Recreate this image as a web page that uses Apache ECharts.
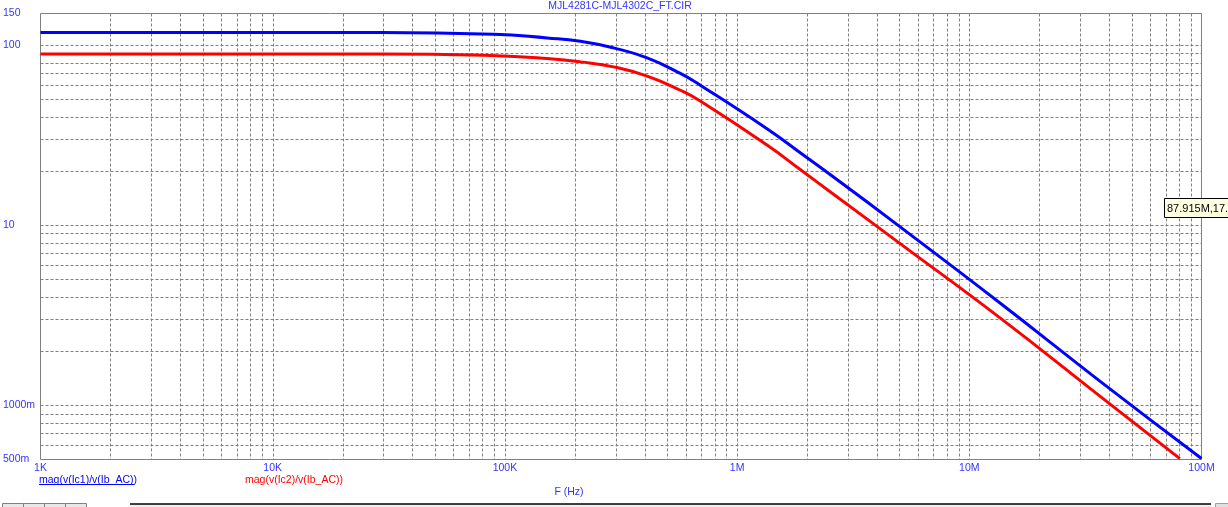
<!DOCTYPE html>
<html>
<head>
<meta charset="utf-8">
<script src="https://cdn.jsdelivr.net/npm/echarts@6/dist/echarts.min.js"></script>
<style>html,body{margin:0;padding:0;background:#fff;}#c{width:1228px;height:507px;}</style>
</head>
<body>
<div id="c"></div>
<script>
// ---- data ----
const chartTitle = 'MJL4281C-MJL4302C_FT.CIR';
const xTickValues = [1e3, 1e4, 1e5, 1e6, 1e7, 1e8];
const xTickLabels = ['1K', '10K', '100K', '1M', '10M', '100M'];
const yTickValues = [0.5, 1, 10, 100, 150];
const yTickLabels = ['500m', '1000m', '10', '100', '150'];
const seriesNames = ['mag(v(Ic1)/v(Ib_AC))', 'mag(v(Ic2)/v(Ib_AC))'];
const xAxisTitle = 'F (Hz)';
const cursorText = '87.915M,17.';

const blueFreq = [1e3, 2.92e4, 8.93e4, 1.52e5, 2.115e5, 2.94e5, 4.097e5, 5.696e5, 6.94e5, 1.345e6, 1.87e6, 2.601e6, 5.036e6, 1.356e7, 3.65e7, 1e8];
const blueMag  = [117.6, 117.6, 115.1, 109.8, 105.2, 96.6, 85.0, 69.7, 60.0, 34.4, 25.3, 18.55, 9.79, 3.70, 1.363, 0.506];

const redFreq = [1e3, 2.92e4, 8.67e4, 1.52e5, 2.115e5, 2.94e5, 4.097e5, 5.696e5, 6.94e5, 1.345e6, 1.87e6, 2.601e6, 5.036e6, 1.356e7, 3.65e7, 8.07e7];
const redMag  = [89.5, 89.5, 87.7, 84.4, 80.8, 75.8, 67.3, 56.2, 49.0, 27.9, 20.4, 14.87, 7.91, 3.06, 1.125, 0.506];

// ---- gridline positions (1..9 per decade) ----
const vGrid = [];
for (let d = 1e3; d < 1e8; d *= 10) for (let k = 1; k <= 9; k++) if (!(d === 1e3 && k === 1)) vGrid.push([d * k, 1]);
const hGrid = [];
[0.6, 0.7, 0.8, 0.9].forEach(v => hGrid.push([1e3, v]));
for (let d = 1; d < 100; d *= 10) for (let k = 1; k <= 9; k++) hGrid.push([1e3, d * k]);
hGrid.push([1e3, 100]);

const labelColor = '#3434ff';
const fontFam = '"Liberation Sans", Arial, sans-serif';
const gridColor = '#808080';

function findLabel(vals, labels, v) {
  for (let i = 0; i < vals.length; i++) if (Math.abs(v - vals[i]) / vals[i] < 1e-6) return labels[i];
  return '';
}

const chart = echarts.init(document.getElementById('c'), null, {renderer: 'canvas'});
chart.setOption({
  animation: false,
  backgroundColor: '#ffffff',
  grid: {left: 39.5, top: 13.5, right: 26.5, bottom: 47.5, show: true, borderColor: gridColor, borderWidth: 1, backgroundColor: 'transparent'},
  xAxis: {
    type: 'log', logBase: 10, min: 1e3, max: 1e8,
    axisLine: {show: false}, axisTick: {show: false}, splitLine: {show: false},
    axisLabel: {
      color: labelColor, fontFamily: fontFam, fontSize: 10.5, margin: 3,
      alignMinLabel: 'left',
      formatter: v => findLabel(xTickValues, xTickLabels, v)
    }
  },
  yAxis: {
    type: 'log', logBase: 10, min: 0.5, max: 150,
    axisLine: {show: false}, axisTick: {show: false}, splitLine: {show: false},
    axisLabel: {
      color: labelColor, fontFamily: fontFam, fontSize: 10.5, margin: 37.5, align: 'left',
      formatter: v => findLabel(yTickValues, yTickLabels, v)
    }
  },
  series: [
    {
      type: 'custom', z: 1, silent: true, data: vGrid,
      renderItem: function (params, api) {
        const p = api.coord([api.value(0), api.value(1)]);
        const cs = params.coordSys;
        const x = Math.round(p[0]) + 0.5;
        return {type: 'line', silent: true, shape: {x1: x, y1: cs.y, x2: x, y2: cs.y + cs.height},
          style: {stroke: gridColor, lineWidth: 1, lineDash: [3, 2]}};
      }
    },
    {
      type: 'custom', z: 1, silent: true, data: hGrid,
      renderItem: function (params, api) {
        const p = api.coord([api.value(0), api.value(1)]);
        const cs = params.coordSys;
        const y = Math.round(p[1]) + 0.5;
        return {type: 'line', silent: true, shape: {x1: cs.x, y1: y, x2: cs.x + cs.width, y2: y},
          style: {stroke: gridColor, lineWidth: 1, lineDash: [3, 2]}};
      }
    },
    {
      name: seriesNames[0], type: 'line', z: 3, showSymbol: false, smooth: 0.5,
      data: blueFreq.map((f, i) => [f, blueMag[i]]),
      lineStyle: {color: '#0000ff', width: 3}, itemStyle: {color: '#0000ff'}
    },
    {
      name: seriesNames[1], type: 'line', z: 3, showSymbol: false, smooth: 0.5,
      data: redFreq.map((f, i) => [f, redMag[i]]),
      lineStyle: {color: '#ff0000', width: 3}, itemStyle: {color: '#ff0000'}
    }
  ],
  graphic: [
    {type: 'text', x: 620, y: 6, style: {text: chartTitle, font: '10.5px ' + fontFam, fill: labelColor, align: 'center', verticalAlign: 'middle'}},
    {type: 'text', x: 39, y: 480, style: {text: seriesNames[0], font: '10.5px ' + fontFam, fill: '#0000ff', align: 'left', verticalAlign: 'middle'}},
    {type: 'line', shape: {x1: 39, y1: 484.5, x2: 134, y2: 484.5}, style: {stroke: '#0000ff', lineWidth: 1}},
    {type: 'text', x: 245, y: 480, style: {text: seriesNames[1], font: '10.5px ' + fontFam, fill: '#ff0000', align: 'left', verticalAlign: 'middle'}},
    {type: 'text', x: 569, y: 492, style: {text: xAxisTitle, font: '10.5px ' + fontFam, fill: labelColor, align: 'center', verticalAlign: 'middle'}},
    {type: 'rect', z: 20, shape: {x: 1164.5, y: 198.5, width: 70, height: 19}, style: {fill: '#ffffe1', stroke: '#000000', lineWidth: 1}},
    {type: 'text', z: 21, x: 1167, y: 208.5, style: {text: cursorText, font: '11px ' + fontFam, fill: '#000000', align: 'left', verticalAlign: 'middle'}},
    {type: 'rect', shape: {x: 130, y: 504, width: 1081, height: 3}, style: {fill: '#f0f0f0'}},
    {type: 'line', shape: {x1: 130, y1: 504, x2: 1211, y2: 504}, style: {stroke: '#000000', lineWidth: 1.5}},
    {type: 'rect', shape: {x: 2.5, y: 503.5, width: 21, height: 5}, style: {fill: '#e8e8e8', stroke: '#808080', lineWidth: 1}},
    {type: 'rect', shape: {x: 23.5, y: 503.5, width: 21, height: 5}, style: {fill: '#e8e8e8', stroke: '#808080', lineWidth: 1}},
    {type: 'rect', shape: {x: 44.5, y: 503.5, width: 21, height: 5}, style: {fill: '#e8e8e8', stroke: '#808080', lineWidth: 1}},
    {type: 'rect', shape: {x: 65.5, y: 503.5, width: 21, height: 5}, style: {fill: '#e8e8e8', stroke: '#808080', lineWidth: 1}},
    {type: 'rect', shape: {x: 1215.5, y: 503.5, width: 13, height: 5}, style: {fill: '#e0e0e0', stroke: '#a0a0a0', lineWidth: 1}}
  ]
});
</script>
</body>
</html>
